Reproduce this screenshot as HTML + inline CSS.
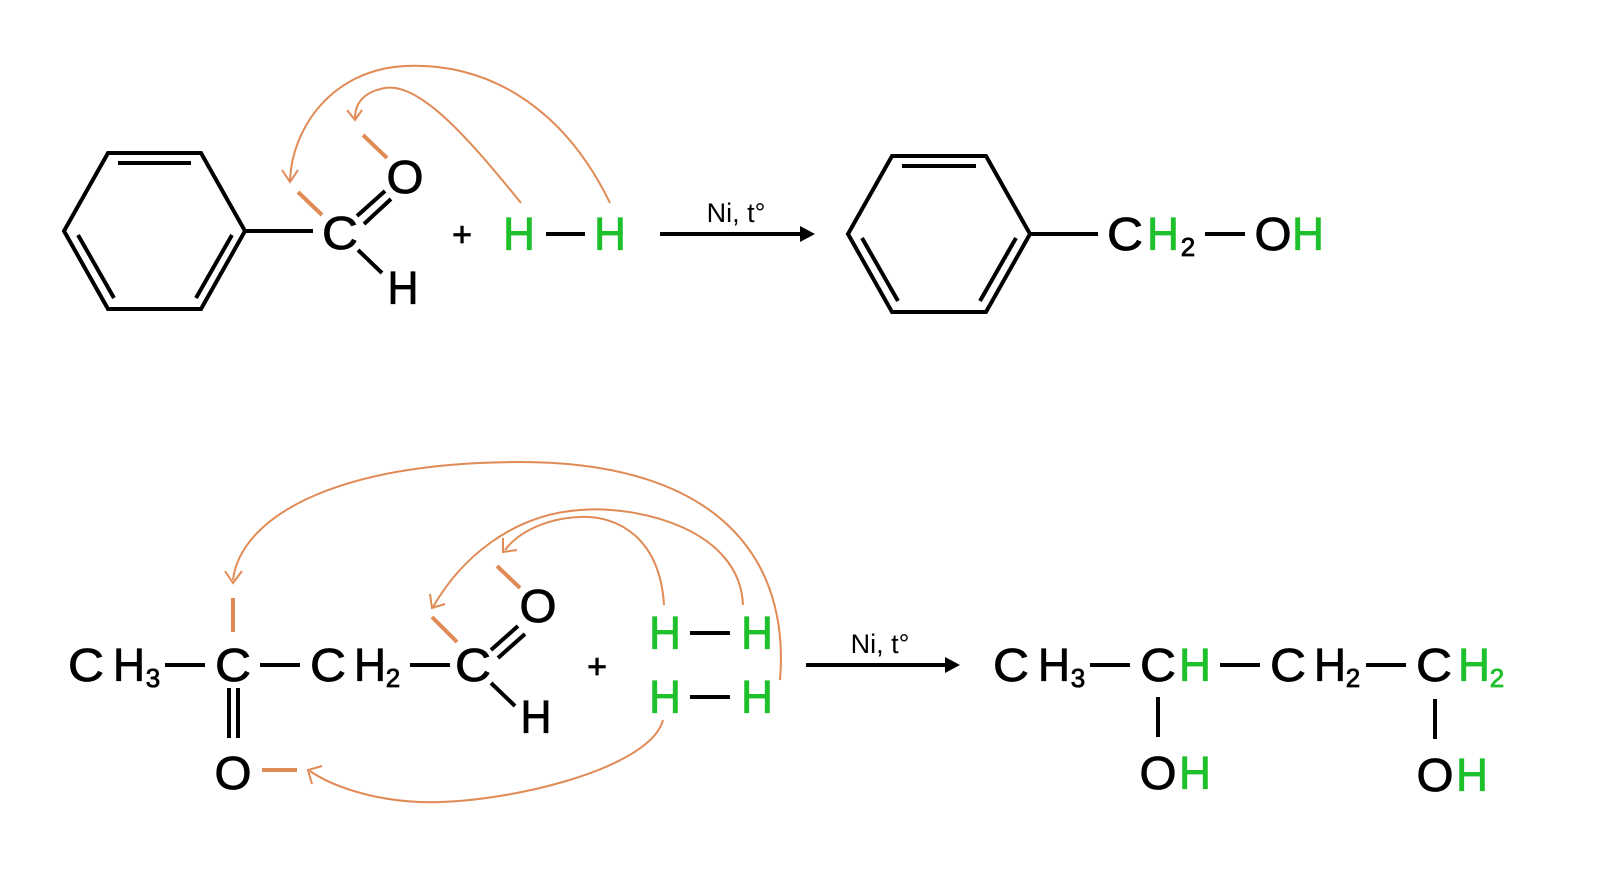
<!DOCTYPE html>
<html><head><style>
html,body{margin:0;padding:0;background:#fff;}
svg{display:block}
text{font-family:"Liberation Sans",sans-serif;text-anchor:middle;}
.k{fill:#000;stroke:#000;stroke-width:0.8}
.g{fill:#1ec02c;stroke:#1ec02c;stroke-width:0.8}
.s{font-size:26px}
</style></head><body>
<svg width="1600" height="887" viewBox="0 0 1600 887" xmlns="http://www.w3.org/2000/svg">
<g stroke="#000" stroke-width="4" fill="none" stroke-linecap="butt">
<polygon points="64,231 108,153 201,153 245,231 201,309 108,309"/>
<line x1="118" y1="163" x2="191" y2="163"/>
<line x1="78" y1="235" x2="114" y2="298"/>
<line x1="196" y1="298" x2="232" y2="235"/>
<line x1="245" y1="231" x2="313" y2="231"/>
<line x1="357" y1="216" x2="385" y2="191"/>
<line x1="364" y1="224" x2="391" y2="199"/>
<line x1="358" y1="250" x2="382" y2="273"/>
<line x1="546" y1="234" x2="585" y2="234"/>
<line x1="660" y1="234" x2="800" y2="234"/>
<polygon points="848,234 892,156 986,156 1030,234 986,312 892,312"/>
<line x1="902" y1="166" x2="976" y2="166"/>
<line x1="862" y1="238" x2="898" y2="301"/>
<line x1="980" y1="301" x2="1016" y2="238"/>
<line x1="1030" y1="234" x2="1098" y2="234"/>
<line x1="1205" y1="234" x2="1245" y2="234"/>
<line x1="165" y1="665" x2="205" y2="665"/>
<line x1="260" y1="665" x2="300" y2="665"/>
<line x1="410" y1="665" x2="450" y2="665"/>
<line x1="229" y1="688" x2="229" y2="738"/>
<line x1="238" y1="688" x2="238" y2="738"/>
<line x1="491" y1="650" x2="518" y2="626"/>
<line x1="498" y1="658" x2="525" y2="634"/>
<line x1="491" y1="683" x2="515" y2="706"/>
<line x1="690" y1="633" x2="730" y2="633"/>
<line x1="690" y1="697" x2="730" y2="697"/>
<line x1="806" y1="665" x2="945" y2="665"/>
<line x1="1090" y1="665" x2="1130" y2="665"/>
<line x1="1220" y1="665" x2="1260" y2="665"/>
<line x1="1366" y1="665" x2="1406" y2="665"/>
<line x1="1158" y1="697" x2="1158" y2="737"/>
<line x1="1435" y1="699" x2="1435" y2="739"/>
</g>
<path d="M800,226 L815,234 L800,242 z" fill="#000"/>
<path d="M945,657 L960,665 L945,673 z" fill="#000"/>
<g font-size="46" lengthAdjust="spacingAndGlyphs">
<text class="k" x="340" y="249" textLength="36" lengthAdjust="spacingAndGlyphs">C</text>
<text class="k" x="405" y="193" textLength="37" lengthAdjust="spacingAndGlyphs">O</text>
<text class="k" x="403" y="304" textLength="31" lengthAdjust="spacingAndGlyphs">H</text>
<text class="k" x="462" y="246" font-size="34">+</text>
<text class="g" x="519" y="250" textLength="32" lengthAdjust="spacingAndGlyphs">H</text>
<text class="g" x="610" y="250" textLength="32" lengthAdjust="spacingAndGlyphs">H</text>
<text class="k" x="1125" y="250" textLength="36" lengthAdjust="spacingAndGlyphs">C</text>
<text class="g" x="1163" y="250" textLength="32" lengthAdjust="spacingAndGlyphs">H</text>
<text class="k s" x="1188" y="256">2</text>
<text class="k" x="1273" y="250" textLength="37" lengthAdjust="spacingAndGlyphs">O</text>
<text class="g" x="1308" y="250" textLength="32" lengthAdjust="spacingAndGlyphs">H</text>

<text class="k" x="86" y="681" textLength="36" lengthAdjust="spacingAndGlyphs">C</text>
<text class="k" x="129" y="681" textLength="32" lengthAdjust="spacingAndGlyphs">H</text>
<text class="k s" x="153" y="687">3</text>
<text class="k" x="233" y="681" textLength="36" lengthAdjust="spacingAndGlyphs">C</text>
<text class="k" x="328" y="681" textLength="36" lengthAdjust="spacingAndGlyphs">C</text>
<text class="k" x="370" y="681" textLength="32" lengthAdjust="spacingAndGlyphs">H</text>
<text class="k s" x="393" y="687">2</text>
<text class="k" x="473" y="681" textLength="36" lengthAdjust="spacingAndGlyphs">C</text>
<text class="k" x="538" y="622" textLength="37" lengthAdjust="spacingAndGlyphs">O</text>
<text class="k" x="536" y="733" textLength="31" lengthAdjust="spacingAndGlyphs">H</text>
<text class="k" x="233" y="789" textLength="37" lengthAdjust="spacingAndGlyphs">O</text>
<text class="k" x="597" y="678" font-size="34">+</text>
<text class="g" x="665" y="649" textLength="32" lengthAdjust="spacingAndGlyphs">H</text>
<text class="g" x="757" y="649" textLength="32" lengthAdjust="spacingAndGlyphs">H</text>
<text class="g" x="665" y="713" textLength="32" lengthAdjust="spacingAndGlyphs">H</text>
<text class="g" x="757" y="713" textLength="32" lengthAdjust="spacingAndGlyphs">H</text>

<text class="k" x="1011" y="681" textLength="36" lengthAdjust="spacingAndGlyphs">C</text>
<text class="k" x="1054" y="681" textLength="32" lengthAdjust="spacingAndGlyphs">H</text>
<text class="k s" x="1078" y="687">3</text>
<text class="k" x="1158" y="681" textLength="36" lengthAdjust="spacingAndGlyphs">C</text>
<text class="g" x="1195" y="681" textLength="32" lengthAdjust="spacingAndGlyphs">H</text>
<text class="k" x="1288" y="681" textLength="36" lengthAdjust="spacingAndGlyphs">C</text>
<text class="k" x="1330" y="681" textLength="32" lengthAdjust="spacingAndGlyphs">H</text>
<text class="k s" x="1353" y="687">2</text>
<text class="k" x="1434" y="681" textLength="36" lengthAdjust="spacingAndGlyphs">C</text>
<text class="g" x="1474" y="681" textLength="32" lengthAdjust="spacingAndGlyphs">H</text>
<text class="g s" x="1497" y="687">2</text>
<text class="k" x="1158" y="789" textLength="37" lengthAdjust="spacingAndGlyphs">O</text>
<text class="g" x="1195" y="789" textLength="32" lengthAdjust="spacingAndGlyphs">H</text>
<text class="k" x="1435" y="791" textLength="37" lengthAdjust="spacingAndGlyphs">O</text>
<text class="g" x="1472" y="791" textLength="32" lengthAdjust="spacingAndGlyphs">H</text>
</g>
<text x="736" y="222" font-size="27" fill="#000">Ni, t°</text>
<text x="880" y="653" font-size="27" fill="#000">Ni, t°</text>
<g stroke="#e08a55" fill="none" stroke-width="2">
<path d="M610,203 C560,100 480,62 405,66 C330,70 292,130 290,180"/>
<path d="M282,170 L290,182 L298,170"/>
<path d="M521,203 C470,140 420,82 385,88 C362,92 355,105 355,118"/>
<path d="M347,110 L355,120 L362,110"/>
<path d="M780,680 C790,560 720,462 520,462 C330,462 240,520 233,580"/>
<path d="M225,571 L233,583 L242,571"/>
<path d="M743,605 C740,530 640,505 580,510 C510,515 460,560 433,607"/>
<path d="M430,594 L432,608 L445,604"/>
<path d="M664,605 C660,540 620,515 580,517 C550,518 520,530 505,550"/>
<path d="M503,538 L503,552 L517,550"/>
<path d="M663,720 C650,770 500,805 420,802 C370,800 330,785 310,771"/>
<path d="M312,784 L308,770 L322,766"/>
</g>
<g stroke="#e08a55" fill="none" stroke-width="4">
<line x1="298" y1="192" x2="322" y2="215"/>
<line x1="363" y1="135" x2="387" y2="158"/>
<line x1="233" y1="598" x2="233" y2="632"/>
<line x1="262" y1="770" x2="297" y2="770"/>
<line x1="432" y1="617" x2="457" y2="642"/>
<line x1="497" y1="566" x2="520" y2="588"/>
</g>
</svg>
</body></html>
